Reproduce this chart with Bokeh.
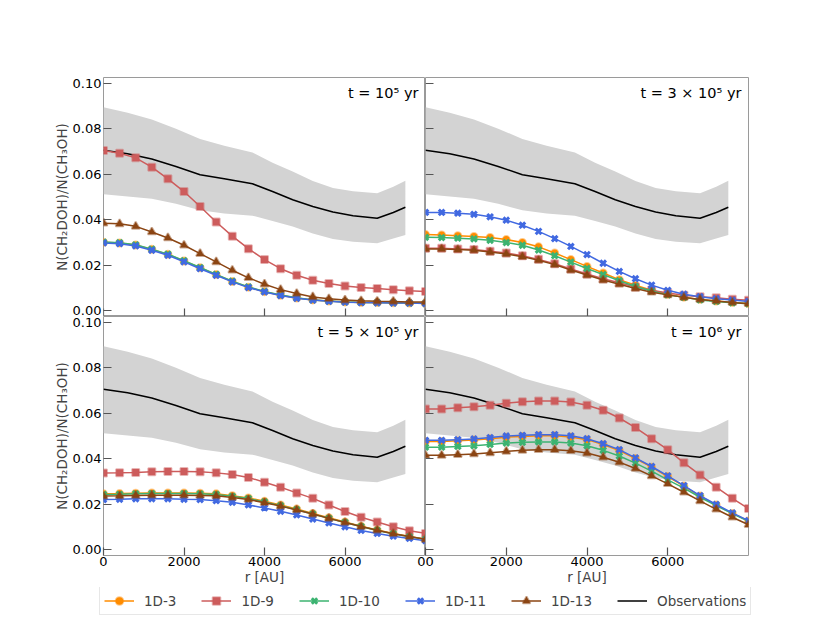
from bokeh.plotting import figure
from bokeh.layouts import column, row
from bokeh.models import (ColumnDataSource, Range1d, FixedTicker, NumeralTickFormatter,
                          Label, Legend, LegendItem)
from bokeh.embed import file_html
from bokeh.resources import INLINE

# ---------------- data ----------------
r_au = [0, 400, 800, 1200, 1600, 2000, 2400, 2800, 3200, 3600, 4000,
        4400, 4800, 5200, 5600, 6000, 6400, 6800, 7200, 7600, 8000]

model_names = ["1D-3", "1D-9", "1D-10", "1D-11", "1D-13"]
time_labels = ["t = 10⁵ yr", "t = 3 × 10⁵ yr", "t = 5 × 10⁵ yr", "t = 10⁶ yr"]

# t = 1e5 yr
m3_t1 = [0.0301, 0.0298, 0.0289, 0.0270, 0.0248, 0.0219, 0.0189, 0.0159, 0.0129, 0.0104, 0.0084,
         0.0068, 0.0056, 0.0048, 0.0043, 0.0039, 0.0037, 0.0036, 0.0035, 0.0034, 0.0033]
m9_t1 = [0.0704, 0.0692, 0.0672, 0.0631, 0.0580, 0.0524, 0.0458, 0.0390, 0.0328, 0.0273, 0.0225,
         0.0185, 0.0156, 0.0134, 0.0120, 0.0109, 0.0102, 0.0098, 0.0093, 0.0088, 0.0085]
m10_t1 = [0.0302, 0.0299, 0.0290, 0.0271, 0.0249, 0.0220, 0.0190, 0.0160, 0.0130, 0.0105, 0.0085,
          0.0069, 0.0057, 0.0048, 0.0043, 0.0039, 0.0037, 0.0036, 0.0035, 0.0034, 0.0033]
m11_t1 = [0.0298, 0.0295, 0.0285, 0.0266, 0.0244, 0.0215, 0.0185, 0.0156, 0.0127, 0.0102, 0.0083,
          0.0067, 0.0055, 0.0047, 0.0042, 0.0038, 0.0036, 0.0035, 0.0034, 0.0034, 0.0032]
m13_t1 = [0.0385, 0.0382, 0.0371, 0.0346, 0.0320, 0.0288, 0.0251, 0.0215, 0.0178, 0.0145, 0.0117,
          0.0093, 0.0076, 0.0061, 0.0053, 0.0047, 0.0044, 0.0042, 0.0041, 0.0039, 0.0039]

# t = 3e5 yr
m3_t2 = [0.0335, 0.0333, 0.0330, 0.0327, 0.0322, 0.0313, 0.0300, 0.0281, 0.0254, 0.0225, 0.0195,
         0.0166, 0.0137, 0.0112, 0.0090, 0.0073, 0.0060, 0.0050, 0.0043, 0.0037, 0.0032]
m9_t2 = [0.0275, 0.0275, 0.0272, 0.0269, 0.0262, 0.0254, 0.0242, 0.0226, 0.0207, 0.0184, 0.0162,
         0.0141, 0.0123, 0.0105, 0.0090, 0.0078, 0.0068, 0.0062, 0.0057, 0.0051, 0.0046]
m10_t2 = [0.0323, 0.0322, 0.0319, 0.0316, 0.0310, 0.0300, 0.0288, 0.0267, 0.0242, 0.0214, 0.0186,
          0.0159, 0.0132, 0.0107, 0.0087, 0.0070, 0.0059, 0.0048, 0.0041, 0.0035, 0.0031]
m11_t2 = [0.0432, 0.0432, 0.0429, 0.0424, 0.0413, 0.0398, 0.0376, 0.0349, 0.0317, 0.0283, 0.0247,
          0.0209, 0.0173, 0.0141, 0.0113, 0.0090, 0.0073, 0.0062, 0.0053, 0.0047, 0.0041]
m13_t2 = [0.0272, 0.0272, 0.0269, 0.0266, 0.0258, 0.0250, 0.0238, 0.0222, 0.0203, 0.0179, 0.0157,
          0.0135, 0.0117, 0.0098, 0.0082, 0.0070, 0.0059, 0.0050, 0.0043, 0.0037, 0.0031]

# t = 5e5 yr
m3_t3 = [0.0246, 0.0247, 0.0249, 0.0250, 0.0250, 0.0250, 0.0249, 0.0246, 0.0238, 0.0228, 0.0213,
         0.0197, 0.0179, 0.0160, 0.0141, 0.0122, 0.0104, 0.0087, 0.0072, 0.0059, 0.0047]
m9_t3 = [0.0337, 0.0338, 0.0340, 0.0343, 0.0344, 0.0344, 0.0343, 0.0338, 0.0331, 0.0318, 0.0297,
         0.0275, 0.0250, 0.0226, 0.0197, 0.0168, 0.0143, 0.0122, 0.0101, 0.0084, 0.0072]
m10_t3 = [0.0243, 0.0244, 0.0246, 0.0247, 0.0247, 0.0247, 0.0246, 0.0243, 0.0235, 0.0225, 0.0210,
          0.0194, 0.0176, 0.0157, 0.0138, 0.0120, 0.0102, 0.0085, 0.0070, 0.0057, 0.0046]
m11_t3 = [0.0221, 0.0222, 0.0224, 0.0224, 0.0224, 0.0222, 0.0221, 0.0216, 0.0209, 0.0197, 0.0184,
          0.0169, 0.0153, 0.0135, 0.0118, 0.0101, 0.0085, 0.0072, 0.0060, 0.0050, 0.0040]
m13_t3 = [0.0236, 0.0237, 0.0239, 0.0240, 0.0240, 0.0240, 0.0239, 0.0237, 0.0230, 0.0221, 0.0207,
          0.0192, 0.0175, 0.0157, 0.0138, 0.0120, 0.0102, 0.0086, 0.0071, 0.0058, 0.0046]

# t = 1e6 yr
m3_t4 = [0.0476, 0.0476, 0.0479, 0.0482, 0.0488, 0.0495, 0.0498, 0.0501, 0.0501, 0.0496, 0.0484,
         0.0462, 0.0436, 0.0401, 0.0363, 0.0322, 0.0280, 0.0236, 0.0197, 0.0160, 0.0127]
m9_t4 = [0.0619, 0.0619, 0.0624, 0.0628, 0.0635, 0.0644, 0.0650, 0.0654, 0.0654, 0.0649, 0.0635,
         0.0613, 0.0579, 0.0537, 0.0488, 0.0440, 0.0382, 0.0329, 0.0275, 0.0226, 0.0181]
m10_t4 = [0.0451, 0.0451, 0.0454, 0.0457, 0.0463, 0.0469, 0.0472, 0.0474, 0.0474, 0.0469, 0.0457,
          0.0437, 0.0412, 0.0381, 0.0346, 0.0307, 0.0271, 0.0231, 0.0194, 0.0159, 0.0125]
m11_t4 = [0.0481, 0.0481, 0.0484, 0.0487, 0.0493, 0.0500, 0.0503, 0.0506, 0.0506, 0.0501, 0.0488,
          0.0466, 0.0440, 0.0404, 0.0366, 0.0325, 0.0282, 0.0238, 0.0199, 0.0162, 0.0128]
m13_t4 = [0.0415, 0.0415, 0.0418, 0.0421, 0.0426, 0.0432, 0.0437, 0.0440, 0.0440, 0.0435, 0.0425,
          0.0407, 0.0385, 0.0357, 0.0325, 0.0290, 0.0253, 0.0215, 0.0178, 0.0143, 0.0110]

# observations (same in every panel)
obs_r = [0, 600, 1200, 1800, 2400, 3000, 3700, 4200, 4700, 5200, 5700, 6200, 6800, 7200, 7500]
obs_mid = [0.0705, 0.0690, 0.0667, 0.0634, 0.0598, 0.0580, 0.0558, 0.0524, 0.0488, 0.0458,
           0.0434, 0.0418, 0.0407, 0.0432, 0.0455]
obs_hi = [0.0894, 0.0870, 0.0840, 0.0800, 0.0755, 0.0725, 0.0696, 0.0650, 0.0612, 0.0570,
          0.0540, 0.0525, 0.0517, 0.0545, 0.0571]
obs_lo = [0.0512, 0.0502, 0.0492, 0.0470, 0.0442, 0.0428, 0.0418, 0.0395, 0.0370, 0.0340,
          0.0315, 0.0303, 0.0297, 0.0318, 0.0333]

x_ticks = [0, 2000, 4000, 6000]
y_ticks = [0.0, 0.02, 0.04, 0.06, 0.08, 0.10]
x_lim = (0, 8000)
y_lim = (-0.0025, 0.1025)

panel_series = [
    [m3_t1, m9_t1, m10_t1, m11_t1, m13_t1],
    [m3_t2, m9_t2, m10_t2, m11_t2, m13_t2],
    [m3_t3, m9_t3, m10_t3, m11_t3, m13_t3],
    [m3_t4, m9_t4, m10_t4, m11_t4, m13_t4],
]

# ---------------- styles ----------------
FONT = "DejaVu Sans"
colors = ["#ff8c00", "#cd5c5c", "#3cb371", "#4169e1", "#8b4513"]
markers = ["circle", "square", "x", "x", "triangle"]
msizes = [7, 7, 8, 8, 8]
FRAME_COLOR = "#9a9a9a"
TICK_COLOR = "#555555"

FW = [322, 323]
FH = 239
LEFT = 103
TOP = 77


def style_axis(ax, show_labels, edge=None):
    ax.major_tick_in = 8
    ax.major_tick_out = 0
    ax.minor_tick_in = 0
    ax.minor_tick_out = 0
    ax.axis_line_color = None
    ax.major_tick_line_color = TICK_COLOR
    ax.major_tick_line_width = 1.2
    ax.major_label_text_font = FONT
    ax.major_label_text_font_size = "13px"
    ax.major_label_text_color = "black"
    if not show_labels:
        # inner edge: ticks only, drawn on the frame edge, no space reserved
        ax.fixed_location = edge
        ax.major_label_text_color = None


def draw_models(p, series):
    renderers = []
    for name, ys, c, mk, ms in zip(model_names, series, colors, markers, msizes):
        if ys is None:
            src = ColumnDataSource(data=dict(r=[float("nan")], v=[float("nan")]))
        else:
            src = ColumnDataSource(data=dict(r=r_au, v=ys))
        l = p.line("r", "v", source=src, line_color=c, line_width=1.5)
        if mk == "x":
            s = p.scatter("r", "v", source=src, marker=mk, size=ms, line_color=c, line_width=3)
        else:
            s = p.scatter("r", "v", source=src, marker=mk, size=ms, fill_color=c,
                          line_color=c, line_alpha=0.45, line_width=2)
        renderers.append((name, [l, s]))
    return renderers


def make_panel(i):
    col = i % 2
    rowi = i // 2
    p = figure(frame_width=FW[col], frame_height=FH,
               x_range=Range1d(*x_lim), y_range=Range1d(*y_lim),
               output_backend="svg", toolbar_location=None,
               min_border_left=LEFT if col == 0 else 0,
               min_border_right=0 if col == 0 else 60,
               min_border_top=TOP if rowi == 0 else 0,
               min_border_bottom=0 if rowi == 0 else 28)
    p.xgrid.visible = False
    p.ygrid.visible = False
    p.outline_line_color = FRAME_COLOR
    p.outline_line_width = 1
    p.background_fill_color = "white"
    p.border_fill_color = "white"

    # x axis
    xa = p.xaxis[0]
    if rowi == 1 and col == 0:
        xa.ticker = FixedTicker(ticks=x_ticks + [x_lim[1]])
        xa.major_label_overrides = {x_lim[1]: "0"}
    else:
        xa.ticker = FixedTicker(ticks=x_ticks)
    style_axis(xa, rowi == 1, y_lim[0])
    if rowi == 1:
        xa.major_label_standoff = 1
        xa.axis_label = "r [AU]"
        xa.axis_label_text_font = FONT
        xa.axis_label_text_font_size = "13.5px"
        xa.axis_label_text_font_style = "normal"
        xa.axis_label_standoff = 0

    # y axis
    ya = p.yaxis[0]
    ya.ticker = FixedTicker(ticks=y_ticks)
    ya.formatter = NumeralTickFormatter(format="0.00")
    style_axis(ya, col == 0, x_lim[0])
    if col == 0:
        ya.major_label_standoff = 2
        ya.axis_label = "N(CH₂DOH)/N(CH₃OH)"
        ya.axis_label_text_font = FONT
        ya.axis_label_text_font_size = "13.5px"
        ya.axis_label_text_font_style = "normal"
        ya.axis_label_standoff = 0

    obs_src = ColumnDataSource(data=dict(r=obs_r, mid=obs_mid, hi=obs_hi, lo=obs_lo))
    p.varea(x="r", y1="lo", y2="hi", source=obs_src, fill_color="#d3d3d3", fill_alpha=1.0)
    p.line("r", "mid", source=obs_src, line_color="black", line_width=1.5)

    draw_models(p, panel_series[i])

    p.add_layout(Label(x=x_lim[1], y=y_lim[1], x_offset=-7, y_offset=-7,
                       text=time_labels[i], text_align="right", text_baseline="top",
                       text_font=FONT, text_font_size="14.5px", text_color="black"))
    return p


panels = [make_panel(i) for i in range(4)]

# ---------------- legend strip ----------------
leg = figure(frame_width=LEFT + FW[0] + FW[1] + 60, frame_height=32,
             x_range=Range1d(0, 1), y_range=Range1d(0, 1),
             x_axis_type=None, y_axis_type=None, output_backend="svg", toolbar_location=None,
             min_border_left=0, min_border_right=0, min_border_top=0, min_border_bottom=0)
leg.xgrid.visible = False
leg.ygrid.visible = False
leg.outline_line_color = None
leg.border_fill_color = "white"

proxy = draw_models(leg, [None] * 5)
obs_proxy = leg.line("r", "v", source=ColumnDataSource(data=dict(r=[float("nan")], v=[float("nan")])),
                     line_color="black", line_width=1.5)
items = [LegendItem(label=name, renderers=rs) for name, rs in proxy]
items.append(LegendItem(label="Observations", renderers=[obs_proxy]))
legend = Legend(items=items, orientation="horizontal", location=(99, 4),
                label_text_font=FONT, label_text_font_size="13.5px",
                glyph_width=30, glyph_height=19, label_height=19, label_standoff=10,
                spacing=25, padding=4, margin=0,
                border_line_color="#d0d0d0", border_line_width=1,
                background_fill_color="white", background_fill_alpha=1.0)
leg.add_layout(legend, "center")

layout = column(row(panels[0], panels[1]), row(panels[2], panels[3]), leg)

open("out.html", "w").write(file_html(layout, INLINE))
